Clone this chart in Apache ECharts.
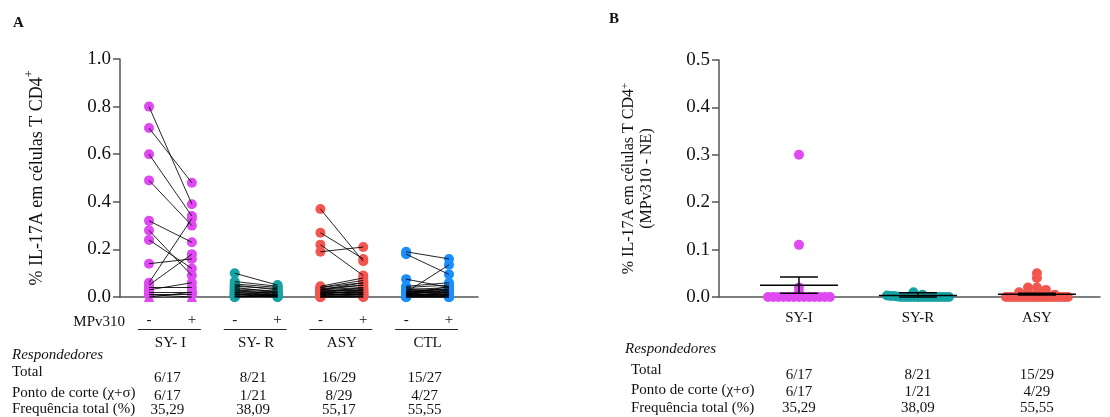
<!DOCTYPE html>
<html><head><meta charset="utf-8">
<script src="https://cdn.jsdelivr.net/npm/echarts@6/dist/echarts.min.js"></script>
<style>html,body{margin:0;padding:0;background:#fff}#c{width:1110px;height:417px}</style>
</head><body><div id="c"></div>
<script>
// ---------- DATA ----------
const groupsA = ['SY- I', 'SY- R', 'ASY', 'CTL'];
const stimLabels = ['-', '+'];
const syiPre  = [0.80, 0.71, 0.60, 0.49, 0.32, 0.28, 0.24, 0.14, 0.06, 0.05, 0.04, 0.03, 0.02, 0.01, 0.01, 0.00, 0.00];
const syiPost = [0.39, 0.48, 0.34, 0.30, 0.23, 0.09, 0.12, 0.16, 0.33, 0.18, 0.04, 0.06, 0.02, 0.01, 0.00, 0.02, 0.00];
const syrPre  = [0.10, 0.065, 0.055, 0.05, 0.045, 0.04, 0.035, 0.03, 0.03, 0.025, 0.02, 0.02, 0.015, 0.01, 0.01, 0.01, 0.005, 0.005, 0.0, 0.0, 0.0];
const syrPost = [0.05, 0.045, 0.04, 0.03, 0.035, 0.02, 0.025, 0.02, 0.01, 0.015, 0.01, 0.005, 0.02, 0.005, 0.01, 0.0, 0.005, 0.0, 0.01, 0.0, 0.005];
const asyPre  = [0.37, 0.27, 0.22, 0.19, 0.045, 0.04, 0.04, 0.035, 0.03, 0.03, 0.03, 0.025, 0.025, 0.02, 0.02, 0.02, 0.015, 0.015, 0.01, 0.01, 0.01, 0.01, 0.005, 0.005, 0.005, 0.0, 0.0, 0.0, 0.0];
const asyPost = [0.15, 0.16, 0.09, 0.21, 0.08, 0.07, 0.06, 0.05, 0.06, 0.04, 0.05, 0.035, 0.03, 0.04, 0.02, 0.03, 0.025, 0.02, 0.01, 0.015, 0.03, 0.01, 0.005, 0.02, 0.01, 0.005, 0.0, 0.01, 0.0];
const ctlPre  = [0.19, 0.18, 0.075, 0.02, 0.045, 0.04, 0.035, 0.03, 0.03, 0.025, 0.025, 0.02, 0.02, 0.015, 0.015, 0.01, 0.01, 0.01, 0.005, 0.005, 0.005, 0.0, 0.0, 0.0, 0.0, 0.01, 0.02];
const ctlPost = [0.16, 0.095, 0.04, 0.135, 0.06, 0.05, 0.03, 0.04, 0.02, 0.03, 0.01, 0.025, 0.015, 0.02, 0.005, 0.01, 0.03, 0.0, 0.01, 0.02, 0.0, 0.005, 0.0, 0.01, 0.0, 0.045, 0.035];
const respTotalA = ['6/17', '8/21', '16/29', '15/27'];
const respCutA   = ['6/17', '1/21', '8/29', '4/27'];
const respFreqA  = ['35,29', '38,09', '55,17', '55,55'];

const groupsB = ['SY-I', 'SY-R', 'ASY'];
const diffSYI = [0.30, 0.11, 0.02, 0.01, 0, 0, 0, 0, 0, 0, 0, 0, 0, 0, 0, 0, 0];
const diffSYR = [0.01, 0.005, 0.003, 0.002, 0.002, 0.001, 0, 0, 0, 0, 0, 0, 0, 0, 0, 0, 0, 0, 0, 0, 0];
const diffASY = [0.05, 0.04, 0.02, 0.02, 0.015, 0.01, 0.01, 0.008, 0.005, 0.005, 0, 0, 0, 0, 0, 0, 0, 0, 0, 0, 0, 0, 0, 0, 0, 0, 0, 0, 0];
const meanB = [0.025, 0.003, 0.006];
const semB  = [0.017, 0.006, 0.002];
const respTotalB = ['6/17', '8/21', '15/29'];
const respCutB   = ['6/17', '1/21', '4/29'];
const respFreqB  = ['35,29', '38,09', '55,55'];

// ---------- STYLE ----------
const FONT = '"Liberation Serif", "Times New Roman", serif';
const colors = ['#E048F2', '#17A3A3', '#F2564F', '#1A8FFB'];
const AXC = '#555';
const pairsA = [[syiPre, syiPost], [syrPre, syrPost], [asyPre, asyPost], [ctlPre, ctlPost]];
const diffsB = [diffSYI, diffSYR, diffASY];

const series = [];
pairsA.forEach((pp, g) => {
  const xPre = 2 * g + 1, xPost = 2 * g + 2;
  const pts = [];
  pp[0].forEach(v => pts.push([xPre, v]));
  pp[1].forEach(v => pts.push([xPost, v]));
  series.push({
    type: 'scatter', xAxisIndex: 0, yAxisIndex: 0, data: pts, clip: false,
    symbol: (val) => (g === 0 && val[1] === 0) ? 'triangle' : 'circle',
    symbolSize: 10, itemStyle: { color: colors[g], opacity: 1 }, z: 2, silent: true
  });
  series.push({
    type: 'lines', coordinateSystem: 'cartesian2d', xAxisIndex: 0, yAxisIndex: 0,
    data: pp[0].map((v, i) => ({ coords: [[xPre, v], [xPost, pp[1][i]]] })),
    lineStyle: { color: '#000', width: 1, opacity: 0.85 }, z: 3, silent: true
  });
});

// panel B: scatter with horizontal spreading for ties
function spread(values, center) {
  const rows = {};
  values.forEach(v => { const k = Math.round(v / 0.01); (rows[k] = rows[k] || []).push(v); });
  const out = [];
  Object.keys(rows).forEach(k => {
    const r = rows[k], n = r.length;
    const w = Math.min((n - 1) * 0.075, 0.52);
    r.forEach((v, i) => out.push([n === 1 ? center : center - w / 2 + i * w / (n - 1), v]));
  });
  return out;
}
diffsB.forEach((d, g) => {
  series.push({
    type: 'scatter', xAxisIndex: 1, yAxisIndex: 1, data: spread(d, g + 1), clip: false,
    symbolSize: 10, itemStyle: { color: colors[g], opacity: 1 }, z: 2, silent: true
  });
});
series.push({
  type: 'custom', xAxisIndex: 1, yAxisIndex: 1, z: 4, silent: true,
  data: meanB.map((m, i) => [i + 1, m, semB[i]]),
  renderItem(params, api) {
    const x = api.value(0), m = api.value(1), s = api.value(2);
    const c = api.coord([x, m]), t = api.coord([x, m + s]), b = api.coord([x, Math.max(0, m - s)]);
    const st = { stroke: '#000', lineWidth: 1.5 };
    return { type: 'group', children: [
      { type: 'line', shape: { x1: c[0] - 39, y1: c[1], x2: c[0] + 39, y2: c[1] }, style: st },
      { type: 'line', shape: { x1: c[0], y1: t[1], x2: c[0], y2: b[1] }, style: st },
      { type: 'line', shape: { x1: c[0] - 19, y1: t[1], x2: c[0] + 19, y2: t[1] }, style: st },
      { type: 'line', shape: { x1: c[0] - 19, y1: b[1], x2: c[0] + 19, y2: b[1] }, style: st }
    ]};
  }
});

const axisLineStyle = { show: true, lineStyle: { color: AXC, width: 1.5 } };
const option = {
  animation: false,
  backgroundColor: '#fff',
  grid: [
    { left: 120, top: 59, width: 358, height: 238 },
    { left: 719, top: 60, width: 381, height: 237 }
  ],
  xAxis: [
    { type: 'value', gridIndex: 0, min: 0.323, max: 8.677, splitLine: { show: false },
      axisLine: axisLineStyle,
      axisTick: { show: true, customValues: [1, 2, 3, 4, 5, 6, 7, 8], length: 4, lineStyle: { color: AXC, width: 1.2 } },
      axisLabel: { show: true, customValues: [1, 2, 3, 4, 5, 6, 7, 8], margin: 16, fontFamily: FONT, fontSize: 15, color: '#111',
        formatter: v => stimLabels[(Math.round(v) + 1) % 2] } },
    { type: 'value', gridIndex: 1, min: 0.328, max: 3.53, splitLine: { show: false },
      axisLine: axisLineStyle,
      axisTick: { show: true, customValues: [1, 2, 3], length: 5, lineStyle: { color: AXC, width: 1.2 } },
      axisLabel: { show: true, customValues: [1, 2, 3], margin: 14, fontFamily: FONT, fontSize: 15, color: '#111',
        formatter: v => groupsB[Math.round(v) - 1] } }
  ],
  yAxis: [
    { type: 'value', gridIndex: 0, min: 0, max: 1, interval: 0.2, splitLine: { show: false },
      axisLine: axisLineStyle,
      axisTick: { show: true, length: 7, lineStyle: { color: AXC, width: 1.5 } },
      axisLabel: { fontFamily: FONT, fontSize: 19, color: '#111', margin: 9, formatter: v => v.toFixed(1) },
      name: '{b|% IL-17A em células T CD4}{s|+}', nameLocation: 'middle', nameGap: 70,
      nameTextStyle: { fontFamily: FONT, color: '#111', rich: {
        b: { fontFamily: FONT, fontSize: 18, lineHeight: 26, color: '#111' },
        s: { fontFamily: FONT, fontSize: 12, lineHeight: 12, verticalAlign: 'top', color: '#111' } } } },
    { type: 'value', gridIndex: 1, min: 0, max: 0.5, interval: 0.1, splitLine: { show: false },
      axisLine: axisLineStyle,
      axisTick: { show: true, length: 7, lineStyle: { color: AXC, width: 1.5 } },
      axisLabel: { fontFamily: FONT, fontSize: 19, color: '#111', margin: 9, formatter: v => v.toFixed(1) },
      name: '{b|% IL-17A em células T CD4}{s|+}\n{b|(MPv310 - NE)}', nameLocation: 'middle', nameGap: 63,
      nameTextStyle: { fontFamily: FONT, color: '#111', rich: {
        b: { fontFamily: FONT, fontSize: 16, lineHeight: 18, color: '#111' },
        s: { fontFamily: FONT, fontSize: 11, lineHeight: 10, verticalAlign: 'top', color: '#111' } } } }
  ],
  series: series
};

const chart = echarts.init(document.getElementById('c'), null, { renderer: 'canvas' });
chart.setOption(option);

// ---------- annotations anchored to the axes ----------
function txt(x, y, text, opts) {
  opts = opts || {};
  return { type: 'text', silent: true, z: 10, style: {
    text: text, x: x, y: y, fill: '#111',
    font: (opts.style || '') + ' ' + (opts.weight || '') + ' ' + (opts.size || 15) + 'px ' + FONT,
    align: opts.align || 'left', textAlign: opts.align || 'left',
    verticalAlign: 'middle', textVerticalAlign: 'middle' } };
}
const g = [];
g.push(txt(13, 23, 'A', { weight: 'bold', size: 15 }));
g.push(txt(609, 19, 'B', { weight: 'bold', size: 15 }));
g.push(txt(125, 322, 'MPv310', { align: 'right' }));
const pxA = v => chart.convertToPixel({ gridIndex: 0 }, [v, 0])[0];
const pxB = v => chart.convertToPixel({ gridIndex: 1 }, [v, 0])[0];
groupsA.forEach((name, i) => {
  const x1 = pxA(2 * i + 1), x2 = pxA(2 * i + 2), cx = (x1 + x2) / 2;
  g.push({ type: 'line', silent: true, shape: { x1: x1 - 11, y1: 329.5, x2: x2 + 9, y2: 329.5 }, style: { stroke: '#222', lineWidth: 1.2 } });
  g.push(txt(cx, 343, name, { align: 'center' }));
  g.push(txt(cx - 3, 378, respTotalA[i], { align: 'center' }));
  g.push(txt(cx - 3, 396, respCutA[i], { align: 'center' }));
  g.push(txt(cx - 3, 410, respFreqA[i], { align: 'center' }));
});
g.push(txt(12, 355, 'Respondedores', { style: 'italic' }));
g.push(txt(12, 372, 'Total'));
g.push(txt(12, 393, 'Ponto de corte (χ+σ)'));
g.push(txt(12, 409, 'Frequência total (%)'));

groupsB.forEach((name, i) => {
  const cx = pxB(i + 1);
  g.push(txt(cx, 375, respTotalB[i], { align: 'center' }));
  g.push(txt(cx, 392, respCutB[i], { align: 'center' }));
  g.push(txt(cx, 408, respFreqB[i], { align: 'center' }));
});
g.push(txt(625, 349, 'Respondedores', { style: 'italic' }));
g.push(txt(631, 370, 'Total'));
g.push(txt(631, 390, 'Ponto de corte (χ+σ)'));
g.push(txt(631, 408, 'Frequência total (%)'));
chart.setOption({ graphic: { elements: g } });
</script>
</body></html>
